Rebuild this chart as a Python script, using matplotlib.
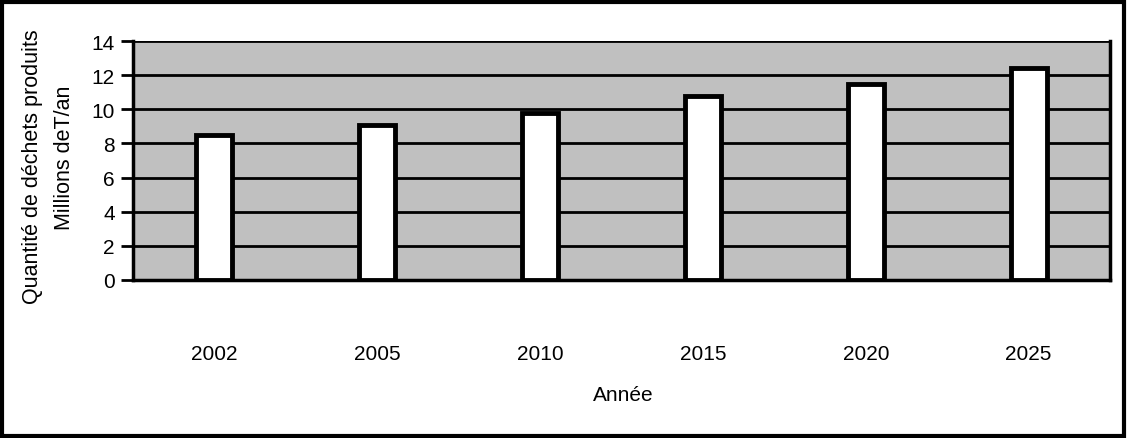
import matplotlib.pyplot as plt
from matplotlib.patches import Rectangle

plt.rcParams['font.family'] = ['Liberation Sans', 'DejaVu Sans']

# Data
years = ["2002", "2005", "2010", "2015", "2020", "2025"]
quantities = [8.5, 9.1, 9.8, 10.8, 11.5, 12.4]
y_ticks = [0, 2, 4, 6, 8, 10, 12, 14]

fig = plt.figure(figsize=(11.27, 4.39), dpi=100)
ax = fig.add_axes([0.118, 0.36, 0.867, 0.544])

ax.set_facecolor("#c0c0c0")
ax.set_axisbelow(True)
ax.yaxis.grid(True, color="black", linewidth=2)

x = range(len(years))
ax.bar(x, quantities, width=0.22, color="white", edgecolor="black", linewidth=3.5, zorder=3)

ax.set_xlim(-0.5, len(years) - 0.5)
ax.set_ylim(0, 14)
ax.set_yticks(y_ticks)
ax.set_xticks(list(x))
ax.set_xticklabels(years)

ax.tick_params(axis="y", length=9, width=2, labelsize=15, pad=4)
ax.tick_params(axis="x", length=0, labelsize=15, pad=46)

for side in ["left", "right", "bottom"]:
    ax.spines[side].set_linewidth(2.5)
ax.spines["top"].set_visible(False)

fig.text(0.553, 0.10, "Année", ha="center", va="center", fontsize=15)
fig.text(0.029, 0.62, "Quantité de déchets produits", rotation=90,
         ha="center", va="center", fontsize=15.5)
fig.text(0.057, 0.64, "Millions deT/an", rotation=90,
         ha="center", va="center", fontsize=15.5)

# outer frame
fig.add_artist(Rectangle((0.002, 0.004), 0.995, 0.99, transform=fig.transFigure,
                         fill=False, edgecolor="black", linewidth=3))

plt.savefig("out.png", dpi=100)
